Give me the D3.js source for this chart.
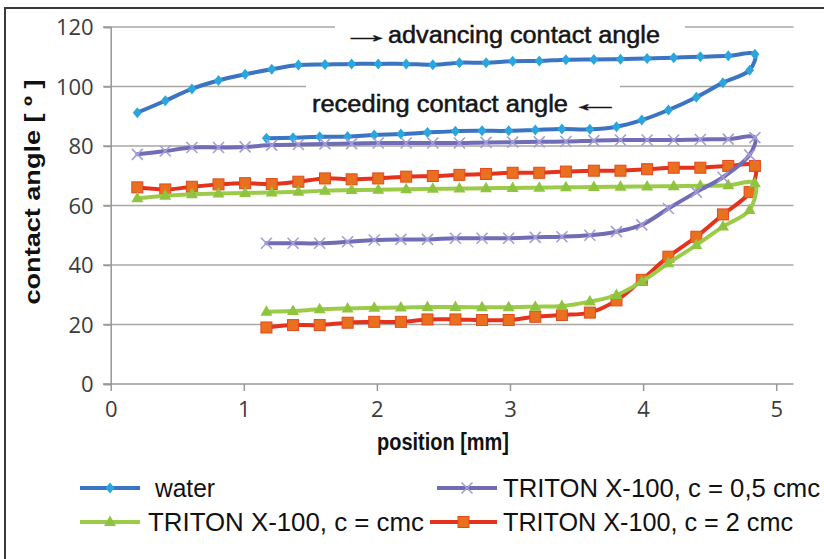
<!DOCTYPE html>
<html><head><meta charset="utf-8">
<script src="https://cdn.jsdelivr.net/npm/d3@7"></script>
<style>body{margin:0;background:#fff}svg{display:block}</style>
</head><body>
<svg id="c" width="824" height="559"></svg>
<script>
// ---- data ----
const xTicks = [0,1,2,3,4,5];
const yTicks = [0,20,40,60,80,100,120];
const xAdvancing = [0.2,0.41,0.61,0.81,1.01,1.21,1.41,1.61,1.81,2.01,2.22,2.42,2.62,2.82,3.02,3.22,3.42,3.63,3.83,4.03,4.23,4.43,4.64,4.84];
const xReceding = [4.80,4.60,4.40,4.19,3.99,3.80,3.60,3.39,3.19,2.99,2.79,2.59,2.38,2.18,1.98,1.78,1.57,1.37,1.17];
const waterAdv = [91.2,95.2,99.2,102,104.1,105.8,107.2,107.4,107.6,107.6,107.6,107.3,108,108,108.5,108.6,109,109.1,109.2,109.4,109.7,110,110.3,110.8];
const waterRec = [105.5,101.3,96.4,92.1,88.7,86.5,85.6,85.7,85.4,85.1,85.1,85,84.5,84,83.7,83.2,83.1,82.8,82.6];
const halfAdv = [77.2,78.3,79.5,79.5,79.7,80.3,80.5,80.7,80.8,81,81,81,81,81.2,81.3,81.4,81.5,81.8,82,82,82,82.2,82.3,82.8];
const halfRec = [77,69.5,64.5,59,53.5,51.2,50,49.5,49.3,49,49,49,48.6,48.6,48.4,47.8,47.3,47.3,47.3];
const cmcAdv = [62.4,63.3,63.8,64,64.2,64.4,64.6,65,65.2,65.3,65.5,65.6,65.7,65.8,65.9,66,66.1,66.2,66.3,66.4,66.5,66.6,66.8,67.5];
const cmcRec = [58.5,52.9,46.7,40.6,34.4,29.9,27.7,26.2,26,25.8,25.8,25.9,25.9,25.7,25.6,25.4,25.1,24.5,24.3];
const twoAdv = [66.1,65.4,66.3,67.1,67.5,67.2,68,69.1,68.8,69.1,69.7,69.9,70.3,70.6,71,71,71.4,71.7,71.7,72.2,72.7,72.7,73.3,73.3];
const twoRec = [64.5,57,49.5,42.8,35,28.1,24,23.2,22.6,21.5,21.5,21.7,21.7,20.9,20.9,20.6,19.8,19.8,19];
const seriesNames = ["water","TRITON X-100, c = 0,5 cmc","TRITON X-100, c = cmc","TRITON X-100, c = 2 cmc"];

const svg = d3.select("#c");
const x = d3.scaleLinear().domain([0,5]).range([110.7,776.2]);
const y = d3.scaleLinear().domain([0,120]).range([384,27]);
const xEnd = x(5.13);

// frame
svg.append("rect").attr("x",5).attr("y",8).attr("width",840).attr("height",570)
  .attr("fill","#fff").attr("stroke","#3a3a3a").attr("stroke-width",2);

// gridlines
svg.append("g").selectAll("line").data(yTicks.filter(d=>d>0)).join("line")
  .attr("x1",103).attr("x2",xEnd).attr("y1",d=>y(d)).attr("y2",d=>y(d))
  .attr("stroke","#aaa6a2").attr("stroke-width",1.5);

// axes
const gx = svg.append("g").attr("transform",`translate(0,${y(0)})`)
  .call(d3.axisBottom(x).tickValues(xTicks).tickFormat(d3.format("d")).tickSize(7).tickPadding(6));
gx.select(".domain").attr("d",`M103,0H${xEnd}`);
const gy = svg.append("g").attr("transform",`translate(${x(0)},0)`)
  .call(d3.axisLeft(y).tickValues(yTicks).tickFormat(d3.format("d")).tickSize(7).tickPadding(10));
[gx,gy].forEach(g=>{
  g.select(".domain").attr("stroke","#9a9692").attr("stroke-width",1.5);
  g.selectAll(".tick line").attr("stroke","#9a9692").attr("stroke-width",1.5);
  g.selectAll(".tick text").attr("fill","#3c3c3c").style("font-family","'Open Sans'").style("font-size","22px");
});
gx.selectAll(".tick text").attr("dy","0.9em");
gy.selectAll(".tick text").attr("dy","0.35em");

// annotations with white boxes
const annStyle = t => t.style("font-family","'Liberation Sans',Arial").style("font-size","23px")
  .attr("fill","#151515").attr("stroke","#151515").attr("stroke-width",0.5);
svg.append("rect").attr("x",335).attr("y",18).attr("width",350).attr("height",34).attr("fill","#fff");
svg.append("rect").attr("x",306).attr("y",80).attr("width",314).attr("height",42).attr("fill","#fff");
annStyle(svg.append("text").attr("transform","translate(341,42) scale(2.26,1)").text("→")
  .attr("stroke-width",0.3));
annStyle(svg.append("text").attr("x",388).attr("y",43).text("advancing contact angle")
  .attr("textLength",272).attr("lengthAdjust","spacingAndGlyphs"));
annStyle(svg.append("text").attr("x",312).attr("y",112).text("receding contact angle")
  .attr("textLength",256).attr("lengthAdjust","spacingAndGlyphs"));
annStyle(svg.append("text").attr("transform","translate(569,111) scale(2.34,1)").text("←")
  .attr("stroke-width",0.3));

// axis titles
svg.append("text").attr("x",443).attr("y",450).attr("text-anchor","middle").text("position [mm]")
  .attr("textLength",132).attr("lengthAdjust","spacingAndGlyphs")
  .style("font-family","'Liberation Sans',Arial").style("font-weight","bold").style("font-size","23px").attr("fill","#111");
svg.append("text").attr("transform","translate(40,192) rotate(-90)").attr("text-anchor","middle")
  .text("contact angle  [ º ]").attr("textLength",225).attr("lengthAdjust","spacingAndGlyphs")
  .style("font-family","'Liberation Sans',Arial").style("font-weight","bold").style("font-size","22px").attr("fill","#111");

// series
const styles = [
  {line:"#3b74c2", marker:"#2aa6de", shape:"diamond", adv:waterAdv, rec:waterRec},
  {line:"#716cb6", marker:"#a29ed6", shape:"x", adv:halfAdv, rec:halfRec},
  {line:"#9ccb4a", marker:"#8fc440", shape:"triangle", adv:cmcAdv, rec:cmcRec},
  {line:"#e5321d", marker:"#e8701f", shape:"square", adv:twoAdv, rec:twoRec}
];
const order = [0,3,2,1];
const lineGen = d3.line().x(d=>x(d[0])).y(d=>y(d[1])).curve(d3.curveCatmullRom.alpha(0.5));

function drawMarker(g, shape, cx, cy, st){
  if(shape==="diamond"){
    g.append("path").attr("d",`M${cx},${cy-5.5}L${cx+4.5},${cy}L${cx},${cy+5.5}L${cx-4.5},${cy}Z`).attr("fill",st.marker);
  } else if(shape==="x"){
    g.append("path").attr("d",`M${cx-5.5},${cy-5.5}L${cx+5.5},${cy+5.5}M${cx-5.5},${cy+5.5}L${cx+5.5},${cy-5.5}`)
      .attr("stroke",st.marker).attr("stroke-width",1.6).attr("fill","none");
  } else if(shape==="triangle"){
    g.append("path").attr("d",`M${cx},${cy-6.5}L${cx+6},${cy+4}L${cx-6},${cy+4}Z`).attr("fill",st.marker);
  } else {
    g.append("rect").attr("x",cx-5.5).attr("y",cy-5.5).attr("width",11).attr("height",11)
      .attr("fill",st.marker).attr("stroke","#e3481e").attr("stroke-width",1);
  }
}

order.forEach(i=>{
  const st = styles[i];
  const pts = xAdvancing.map((v,k)=>[v,st.adv[k]]).concat(xReceding.map((v,k)=>[v,st.rec[k]]));
  const g = svg.append("g");
  g.append("path").attr("d",lineGen(pts)).attr("fill","none").attr("stroke",st.line)
    .attr("stroke-width",4).attr("stroke-linejoin","round").attr("stroke-linecap","round");
  pts.forEach(p=>drawMarker(g, st.shape, x(p[0]), y(p[1]), st));
});

// legend
const legendPos = [
  {lx1:80,lx2:140,ly:488,tx:155,tl:60},
  {lx1:437,lx2:497,ly:488,tx:503,tl:317},
  {lx1:80,lx2:140,ly:522,tx:148,tl:276},
  {lx1:430,lx2:497,ly:522,tx:503,tl:290}
];
legendPos.forEach((p,i)=>{
  const st = styles[i];
  const g = svg.append("g");
  g.append("line").attr("x1",p.lx1).attr("x2",p.lx2).attr("y1",p.ly).attr("y2",p.ly)
    .attr("stroke",st.line).attr("stroke-width",4);
  drawMarker(g, st.shape, (p.lx1+p.lx2)/2, p.ly, st);
  g.append("text").attr("x",p.tx).attr("y",p.ly+9).text(seriesNames[i])
    .attr("textLength",p.tl).attr("lengthAdjust","spacingAndGlyphs")
    .style("font-family","'Liberation Sans',Arial").style("font-size","25px").attr("fill","#111");
});
</script>
</body></html>
